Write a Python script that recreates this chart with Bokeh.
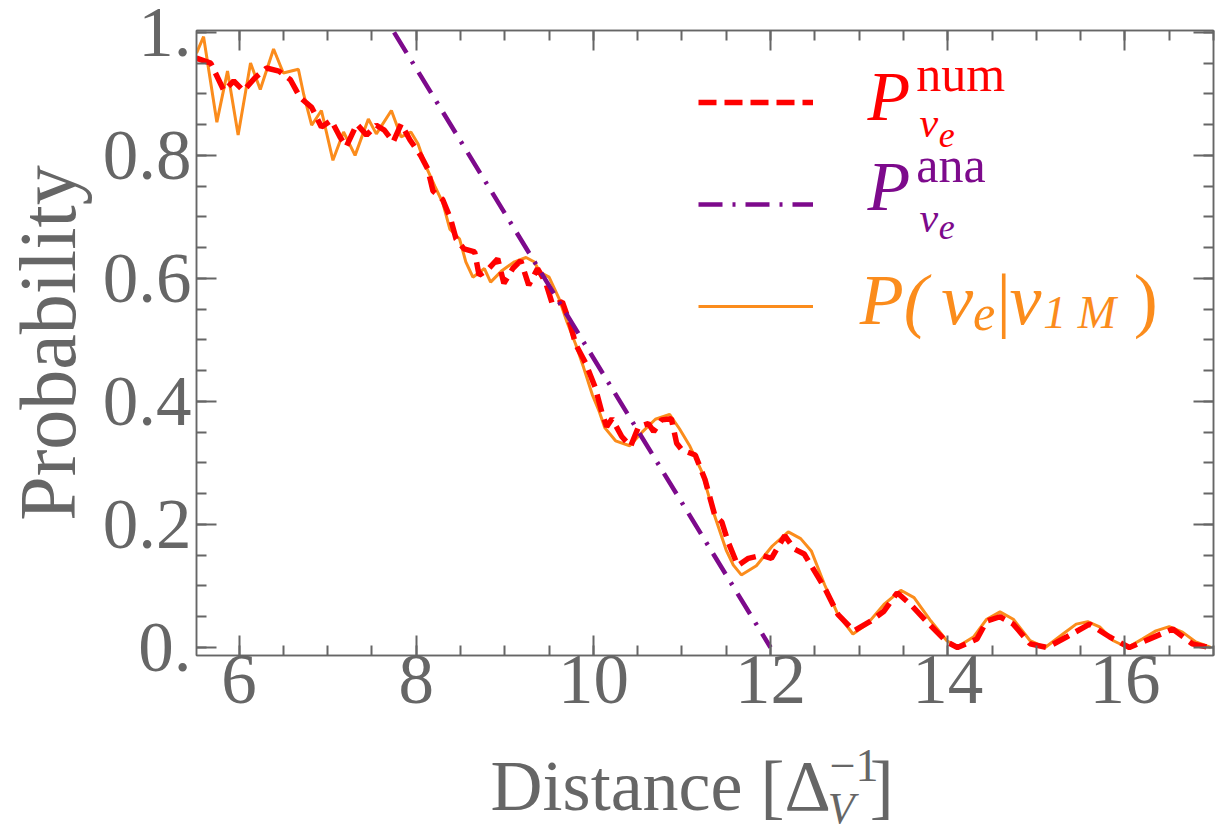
from bokeh.plotting import figure
from bokeh.layouts import column
from bokeh.models import (Range1d, FixedTicker, LinearAxis, Label, Legend, LegendItem)
from bokeh.embed import file_html
from bokeh.resources import INLINE

# ---------------- data ----------------
x_prob = [5.52, 5.60, 5.75, 5.87, 5.99, 6.13, 6.24, 6.39, 6.50, 6.67, 6.73, 6.82, 6.93,
          7.06, 7.18, 7.31, 7.46, 7.55, 7.72, 7.83, 7.94, 8.02, 8.11, 8.21, 8.30, 8.38,
          8.49, 8.56, 8.64, 8.77, 8.84, 8.97, 9.11, 9.24, 9.33, 9.40, 9.50, 9.61, 9.70,
          9.80, 9.89, 9.99, 10.06, 10.13, 10.25, 10.41, 10.55, 10.70, 10.86, 10.97, 11.09,
          11.22, 11.36, 11.50, 11.58, 11.67, 11.84, 12.02, 12.20, 12.34, 12.46, 12.61,
          12.76, 12.93, 13.09, 13.28, 13.47, 13.62, 13.81, 13.99, 14.11, 14.29, 14.44,
          14.59, 14.74, 14.93, 15.10, 15.30, 15.45, 15.58, 15.72, 15.87, 16.03, 16.20,
          16.35, 16.50, 16.65, 16.80, 16.97]
p_prob = [0.966, 0.993, 0.854, 0.937, 0.833, 0.950, 0.907, 0.973, 0.934, 0.940, 0.899, 0.849, 0.873,
          0.792, 0.838, 0.800, 0.859, 0.835, 0.873, 0.830, 0.838, 0.819, 0.782, 0.750, 0.723, 0.680,
          0.664, 0.627, 0.602, 0.616, 0.594, 0.613, 0.627, 0.634, 0.627, 0.610, 0.602, 0.568, 0.530,
          0.493, 0.455, 0.410, 0.386, 0.357, 0.336, 0.328, 0.350, 0.371, 0.379, 0.356, 0.327,
          0.287, 0.218, 0.158, 0.134, 0.118, 0.133, 0.165, 0.188, 0.177, 0.157, 0.102,
          0.054, 0.022, 0.038, 0.070, 0.093, 0.081, 0.043, 0.011, 0.001, 0.017, 0.046,
          0.058, 0.046, 0.011, 0.000, 0.022, 0.038, 0.042, 0.033, 0.011, 0.000, 0.014,
          0.027, 0.034, 0.025, 0.009, 0.000]

x_num = [5.52, 5.68, 5.83, 5.94, 6.05, 6.18, 6.31, 6.45, 6.58, 6.69, 6.82, 6.93, 7.04, 7.14,
         7.21, 7.33, 7.44, 7.55, 7.64, 7.74, 7.83, 7.93, 8.05, 8.13, 8.19, 8.30, 8.39, 8.45,
         8.54, 8.66, 8.71, 8.82, 8.92, 8.99, 9.09, 9.18, 9.27, 9.37, 9.46, 9.54, 9.65, 9.74,
         9.80, 9.91, 10.02, 10.10, 10.15, 10.21, 10.32, 10.42, 10.51, 10.62, 10.68, 10.77,
         10.88, 10.94, 11.00, 11.15, 11.26, 11.37, 11.45, 11.52, 11.63, 11.75, 11.90, 12.01,
         12.16, 12.27, 12.38, 12.61, 12.76, 12.94, 13.13, 13.28, 13.43, 13.58, 13.77, 13.99,
         14.11, 14.33, 14.44, 14.59, 14.74, 14.93, 15.12, 15.34, 15.60, 15.83, 16.05, 16.28,
         16.54, 16.76, 16.95]
p_num = [0.958, 0.950, 0.905, 0.921, 0.905, 0.926, 0.942, 0.937, 0.923, 0.894, 0.878, 0.846, 0.857, 0.830,
         0.814, 0.851, 0.833, 0.849, 0.841, 0.822, 0.851, 0.825, 0.800, 0.778, 0.742, 0.728, 0.696, 0.664,
         0.648, 0.643, 0.605, 0.616, 0.632, 0.592, 0.616, 0.629, 0.589, 0.616, 0.594, 0.557, 0.562, 0.525,
         0.493, 0.463, 0.423, 0.380, 0.359, 0.372, 0.343, 0.327, 0.359, 0.364, 0.351, 0.370,
         0.372, 0.332, 0.321, 0.313, 0.273, 0.215, 0.204, 0.172, 0.133, 0.145, 0.150, 0.145,
         0.182, 0.160, 0.152, 0.097, 0.054, 0.027, 0.043, 0.059, 0.089, 0.070, 0.041, 0.009,
         0.000, 0.014, 0.043, 0.050, 0.038, 0.006, 0.000, 0.017, 0.038, 0.017, 0.000, 0.014,
         0.030, 0.006, 0.000]

x_ana = [7.75, 12.0]
p_ana = [1.0, 0.0]

x_ticks = [6, 8, 10, 12, 14, 16]
x_minor = [5.5 + 0.5 * i for i in range(24)]
y_ticks = [0.0, 0.2, 0.4, 0.6, 0.8, 1.0]
y_minor = [0.05 * i for i in range(21)]
y_tick_text = {0.0: "0.", 1.0: "1."}

# ---------------- styles ----------------
GRAY = "#666666"
RED = "#ff0000"
PURPLE = "#7d0a8c"
ORANGE = "#fb8c1c"
SERIF = "'Liberation Serif'"

P_H, TOP, BOTTOM = 735, 30, 80
p = figure(width=1225, height=P_H, output_backend="svg", toolbar_location=None,
           x_range=Range1d(5.52, 17.0), y_range=Range1d(-0.013, 1.003),
           min_border_left=193, min_border_right=12, min_border_top=TOP, min_border_bottom=BOTTOM,
           x_axis_type=None, y_axis_type=None)
p.grid.visible = False
p.outline_line_color = GRAY
p.outline_line_width = 1.5
Y_PX = (P_H - TOP - BOTTOM) / 1.016  # pixels per unit of probability


def style_axis(ax, show_labels):
    ax.axis_line_color = GRAY
    ax.axis_line_width = 1.5
    ax.major_tick_line_color = GRAY
    ax.major_tick_line_width = 2
    ax.minor_tick_line_color = GRAY
    ax.minor_tick_line_width = 2
    ax.major_tick_in = 20
    ax.major_tick_out = 0
    ax.minor_tick_in = 10
    ax.minor_tick_out = 0
    ax.major_label_text_font = SERIF
    ax.major_label_text_color = GRAY
    ax.axis_label_text_font = SERIF
    ax.axis_label_text_color = GRAY
    ax.axis_label_text_font_style = "normal"
    if show_labels:
        ax.major_label_text_font_size = "71px"
    else:
        ax.major_label_text_color = None
        ax.major_label_text_font_size = "1px"
        ax.major_label_standoff = 0


xt = FixedTicker(ticks=x_ticks, minor_ticks=x_minor)
yt = FixedTicker(ticks=y_ticks, minor_ticks=y_minor)

xb = LinearAxis(ticker=xt)
style_axis(xb, True)
xb.major_label_standoff = 0
p.add_layout(xb, "below")

yl = LinearAxis(ticker=yt, axis_label="Probability")
style_axis(yl, True)
yl.major_label_overrides = y_tick_text
yl.major_label_standoff = 5
yl.axis_label_text_font_size = "80px"
yl.axis_label_standoff = 8
p.add_layout(yl, "left")

xa = LinearAxis(ticker=xt)
style_axis(xa, False)
p.add_layout(xa, "above")

yr = LinearAxis(ticker=yt)
style_axis(yr, False)
p.add_layout(yr, "right")

# ---------------- curves ----------------
r_prob = p.line(x_prob, p_prob, line_color=ORANGE, line_width=3)
r_num = p.line(x_num, p_num, line_color=RED, line_width=5.5, line_dash="18 8")
r_ana = p.line(x_ana, p_ana, line_color=PURPLE, line_width=4.5, line_dash="24 10 3 10")

legend = Legend(items=[LegendItem(label=" ", renderers=[r_num]),
                       LegendItem(label=" ", renderers=[r_ana]),
                       LegendItem(label=" ", renderers=[r_prob])],
                location=(502, 339 - (745 - P_H - 10)), glyph_width=115, glyph_height=20,
                label_height=20, label_width=0, label_standoff=0, spacing=82,
                padding=0, margin=0, border_line_color=None, background_fill_alpha=0,
                label_text_font_size="1px")
p.add_layout(legend, "center")


def lab(fig, x, y, text, color, size, style="normal", unit=1.0):
    # Label's alphabetic baseline lands ~0.38 em low; lift it accordingly
    fig.add_layout(Label(x=x, y=y + 0.38 * size / unit, text=text, text_color=color,
                         text_font=SERIF, text_font_size=f"{size}px", text_font_style=style,
                         text_align="left", text_baseline="alphabetic"))


lab(p, 13.095, 0.853, "P", RED, 70, "italic", Y_PX)
lab(p, 13.646, 0.902, "num", RED, 50, unit=Y_PX)
lab(p, 13.68, 0.827, "ν", RED, 42, "italic", Y_PX)
lab(p, 13.90, 0.811, "e", RED, 36, "italic", Y_PX)

lab(p, 13.095, 0.706, "P", PURPLE, 70, "italic", Y_PX)
lab(p, 13.646, 0.754, "ana", PURPLE, 50, unit=Y_PX)
lab(p, 13.68, 0.673, "ν", PURPLE, 42, "italic", Y_PX)
lab(p, 13.90, 0.662, "e", PURPLE, 36, "italic", Y_PX)

lab(p, 13.008, 0.520, "P(", ORANGE, 72, "italic", Y_PX)
lab(p, 13.928, 0.520, "ν", ORANGE, 72, "italic", Y_PX)
lab(p, 14.286, 0.512, "e", ORANGE, 50, "italic", Y_PX)
lab(p, 14.55, 0.520, "|", ORANGE, 72, unit=Y_PX)
lab(p, 14.697, 0.520, "ν", ORANGE, 72, "italic", Y_PX)
lab(p, 15.078, 0.516, "1 M", ORANGE, 46, "italic", Y_PX)
lab(p, 16.10, 0.520, ")", ORANGE, 72, unit=Y_PX)

# ---------------- x axis title strip (shares the x scale) ----------------
Q_H = 834 - P_H
q = figure(width=1225, height=Q_H, output_backend="svg", toolbar_location=None,
           x_range=p.x_range, y_range=Range1d(0, Q_H),
           min_border_left=193, min_border_right=12, min_border_top=0, min_border_bottom=0,
           x_axis_type=None, y_axis_type=None)
q.grid.visible = False
q.outline_line_color = None

lab(q, 8.84, 21, "Distance [Δ", GRAY, 72)
lab(q, 12.667, 52, "−1", GRAY, 46)
lab(q, 12.645, 9, "V", GRAY, 44, "italic")
lab(q, 13.12, 21, "]", GRAY, 72)

layout = column(p, q, spacing=0)
open("out.html", "w").write(file_html(layout, INLINE))
